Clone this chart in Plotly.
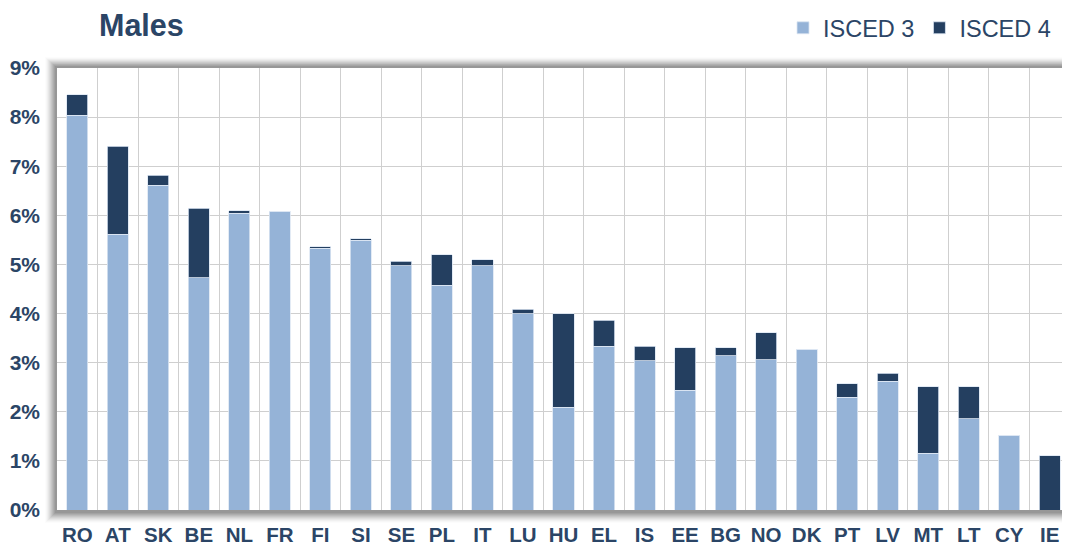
import plotly.graph_objects as go

countries = ["RO", "AT", "SK", "BE", "NL", "FR", "FI", "SI", "SE", "PL", "IT", "LU", "HU",
             "EL", "IS", "EE", "BG", "NO", "DK", "PT", "LV", "MT", "LT", "CY", "IE"]
isced3 = [8.04, 5.62, 6.61, 4.73, 6.04, 6.08, 5.33, 5.49, 4.97, 4.58, 4.97, 4.00, 2.09,
          3.33, 3.04, 2.44, 3.14, 3.06, 3.27, 2.30, 2.62, 1.16, 1.86, 1.52, 0.00]
isced4 = [0.42, 1.79, 0.21, 1.41, 0.05, 0.00, 0.03, 0.03, 0.10, 0.62, 0.13, 0.09, 1.91,
          0.53, 0.29, 0.86, 0.16, 0.55, 0.00, 0.27, 0.16, 1.35, 0.65, 0.00, 1.10]
y_ticks = [0, 1, 2, 3, 4, 5, 6, 7, 8, 9]

LIGHT = "#95B3D7"
DARK = "#243F60"
NAVY = "#2B4566"
FONT = "Liberation Sans, Arial, sans-serif"

# page has an 8px body margin; figure sized to fill the 1070x547 window
OFF = 8
W, H = 1070 - OFF, 547 - OFF
PL, PT, PR, PB = 57, 68, 1070, 510          # plot area in page pixels
L, T, R, B = PL - OFF, PT - OFF, OFF + W - PR, OFF + H - PB
pw, ph = W - L - R, H - T - B

fig = go.Figure()
fig.add_bar(x=countries, y=isced3, name="ISCED 3",
            marker=dict(color=LIGHT, line=dict(color="#DCE6F2", width=0.8)))
fig.add_bar(x=countries, y=isced4, name="ISCED 4",
            marker=dict(color=DARK, line=dict(color="#DCE6F2", width=0.8)))

def rect_page(x0, y0, x1, y1):
    return dict(x0=(x0 - PL) / pw, x1=(x1 - PL) / pw,
                y0=(PB - y1) / ph, y1=(PB - y0) / ph)

shapes = []
# soft drop shadow around the plot area
for i in range(11, 0, -1):
    a = 0.045 + 0.03 * (11 - i)
    shapes.append(dict(type="rect", xref="paper", yref="paper", layer="below",
                       fillcolor="rgba(80,80,80,%.3f)" % (a / 2.6), line=dict(width=0),
                       **rect_page(PL - 1 - i, PT - 1 - i * 0.9, PR + 30, PB + 2 + i)))
shapes.append(dict(type="rect", xref="paper", yref="paper", layer="below",
                   fillcolor="white", line=dict(width=0), x0=0, x1=1.03, y0=0, y1=1))

fig.update_layout(
    width=W, height=H,
    margin=dict(l=L, r=R, t=T, b=B, autoexpand=False),
    barmode="stack",
    bargap=0.48,
    paper_bgcolor="white",
    plot_bgcolor="rgba(0,0,0,0)",
    font=dict(family=FONT, color=NAVY),
    title=dict(text="<b>Males</b>", xref="container", yref="container",
               x=(99 - OFF) / W, xanchor="left", y=1 - (25 - OFF) / H, yanchor="middle",
               font=dict(size=30.5, color=NAVY, family=FONT)),
    legend=dict(orientation="h", xref="container", yref="container",
                x=(1056 - OFF) / W, xanchor="right", y=1 - (28 - OFF) / H, yanchor="middle",
                font=dict(size=23.5, color=NAVY, family=FONT), traceorder="normal",
                itemwidth=30, bgcolor="rgba(0,0,0,0)"),
    xaxis=dict(type="category", tickson="boundaries", showgrid=True, gridcolor="#CFCFCF",
               gridwidth=1.4, ticks="", showline=False, zeroline=False, automargin=False,
               tickfont=dict(size=20.5, color=NAVY, family=FONT),
               ticklabelstandoff=10, tickprefix="<b>", ticksuffix="</b>"),
    yaxis=dict(range=[0, 9], tickvals=y_ticks, ticktext=["<b>%d%%</b>" % v for v in y_ticks],
               showgrid=True, gridcolor="#CFCFCF", gridwidth=1.4, zeroline=False,
               showline=False, ticks="", ticklabelstandoff=16, automargin=False,
               tickfont=dict(size=21, color=NAVY, family=FONT)),
    shapes=shapes,
    showlegend=True,
)

fig.write_html("out.html")
